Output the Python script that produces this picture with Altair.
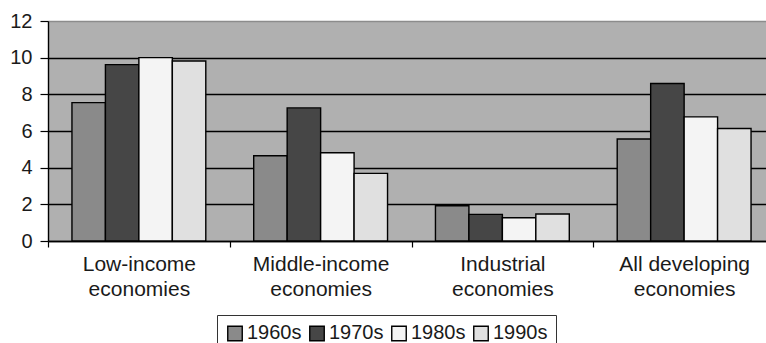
import altair as alt
import pandas as pd

groups = ["Low-income economies", "Middle-income economies",
          "Industrial economies", "All developing economies"]
decades = ["1960s", "1970s", "1980s", "1990s"]
decade_colors = ["#8a8a8a", "#464646", "#f4f4f4", "#e0e0e0"]

values_1960s = [7.55, 4.65, 1.92, 5.56]
values_1970s = [9.62, 7.26, 1.45, 8.59]
values_1980s = [10.0, 4.81, 1.27, 6.77]
values_1990s = [9.82, 3.69, 1.47, 6.14]

series = {"1960s": values_1960s, "1970s": values_1970s,
          "1980s": values_1980s, "1990s": values_1990s}

rows = []
for decade in decades:
    for g, v in zip(groups, series[decade]):
        rows.append({"group": g, "decade": decade, "value": v})
df = pd.DataFrame(rows)

FONT = "Liberation Sans"

# break each category name before its last word
split_label = ("[slice(datum.label, 0, lastindexof(datum.label, ' ')), "
               "slice(datum.label, lastindexof(datum.label, ' ') + 1)]")

chart = alt.Chart(df).mark_bar(stroke="black", strokeWidth=1.4).encode(
    x=alt.X("group:N", sort=groups, title=None,
            scale=alt.Scale(range=[0, 727], paddingInner=0, paddingOuter=0),
            axis=alt.Axis(labelAngle=0, labelFontSize=21, labelFont=FONT,
                          labelColor="#1a1a1a", labelExpr=split_label,
                          labelLineHeight=25, labelPadding=6,
                          tickBand="extent", tickSize=6, tickColor="black",
                          tickWidth=1.2, domainColor="black", domainWidth=1.4,
                          labelBaseline="top")),
    xOffset=alt.XOffset("decade:N", sort=decades,
                        scale=alt.Scale(paddingInner=0, paddingOuter=0.716)),
    y=alt.Y("value:Q", title=None,
            scale=alt.Scale(domain=[0, 12], nice=False),
            axis=alt.Axis(values=[0, 2, 4, 6, 8, 10, 12], labelFontSize=20,
                          labelFont=FONT, labelColor="#1a1a1a",
                          tickSize=8, tickColor="black", tickWidth=1.2,
                          labelPadding=8, domainColor="black", domainWidth=1.4,
                          grid=True,
                          gridColor=alt.condition(alt.datum.value == 12,
                                                  alt.value("#8c8c8c"),
                                                  alt.value("black")),
                          gridWidth=1.3)),
    color=alt.Color("decade:N", sort=decades,
                    scale=alt.Scale(domain=decades, range=decade_colors),
                    legend=alt.Legend(title=None, orient="none",
                                      direction="horizontal", columns=4,
                                      legendX=169, legendY=294,
                                      symbolType="square", symbolSize=210,
                                      symbolStrokeColor="black",
                                      symbolStrokeWidth=1.4,
                                      symbolOpacity=1,
                                      labelFontSize=20, labelFont=FONT,
                                      labelColor="#1a1a1a",
                                      labelOffset=2, columnPadding=4,
                                      padding=8, strokeColor="#333333",
                                      fillColor="white")),
).properties(
    width=718,
    height=220,
    autosize=alt.AutoSizeParams(type="none"),
    padding={"left": 48, "top": 21, "right": 0, "bottom": 102},
    background="white",
).configure_view(
    fill="#b0b0b0", stroke=None
)

chart.save("out.html", embed_options={"renderer": "svg", "actions": False})
